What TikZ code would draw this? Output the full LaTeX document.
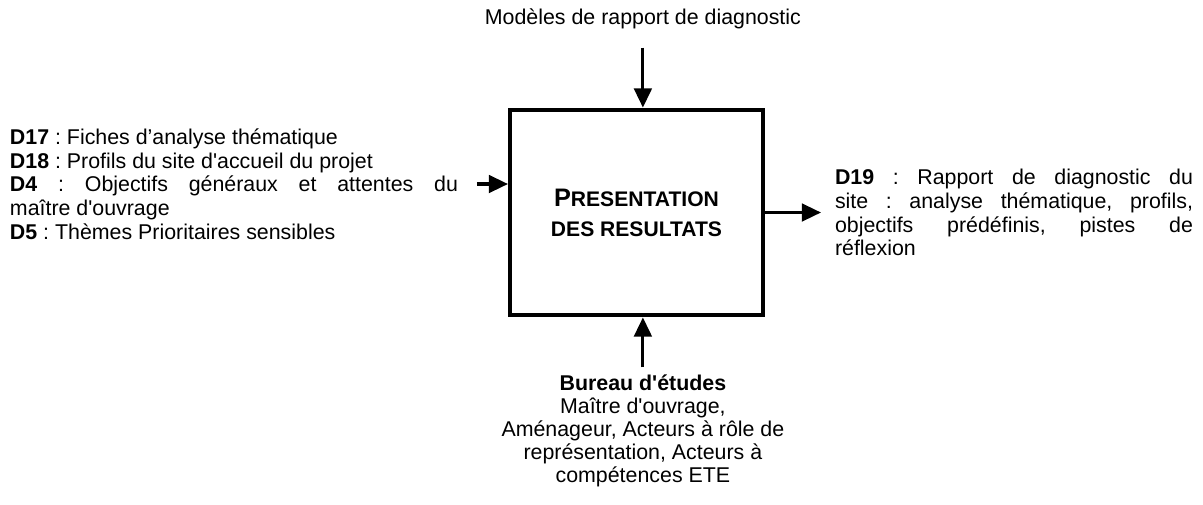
\documentclass[tikz,border=0pt]{standalone}
\usepackage{fontspec}
\setmainfont{Liberation Sans}[Ligatures=TeXOff]
\usetikzlibrary{arrows.meta, positioning}
\setlength{\parindent}{0pt}
\frenchspacing

\begin{document}
\begin{tikzpicture}[
  txt/.style={inner sep=0pt, font=\fontsize{15.2}{16.4}\selectfont},
  activity/.style={rectangle, draw=black, line width=3pt, minimum width=6.32cm,
                   minimum height=5.14cm, align=center,
                   font=\bfseries\fontsize{15}{21.3}\selectfont},
  arrow/.style={-{Triangle[length=0.48cm, width=0.44cm]}, line width=2.2pt},
]
\useasboundingbox (0,0) rectangle (30.075,-12.6);
\node[activity] (proc) at (15.9125,-5.3125) {{\fontsize{18}{21.3}\selectfont P}RESENTATION\\DES RESULTATS};
\node[txt, above=1.5cm of proc, xshift=0.16cm, outer ysep=0.46cm] (ctrl) {Modèles de rapport de diagnostic};
\node[txt, left=0.775cm of proc, yshift=0.7125cm, outer xsep=0.475cm, text width=11.2cm, align=justify,
      font=\fontsize{15.2}{16.8}\selectfont] (din)
  {\textbf{D17} : Fiches d’analyse thématique\\
   \textbf{D18} : Profils du site d'accueil du projet\\
   \textbf{D4} : Objectifs généraux et attentes du\linebreak maître d'ouvrage\\
   \textbf{D5} : Thèmes Prioritaires sensibles};
\node[txt, right=1.4cm of proc, outer xsep=0.35cm, text width=8.95cm, align=justify,
      font=\fontsize{15.2}{17}\selectfont] (dout)
  {\textbf{D19} : Rapport de diagnostic du\linebreak site : analyse thématique, profils,\linebreak
   objectifs prédéfinis, pistes de\linebreak réflexion};
\node[txt, below=1.25cm of proc, xshift=0.16cm, outer ysep=0.175cm, align=center] (mec)
  {\textbf{Bureau d'études}\\Maître d'ouvrage,\\Aménageur, Acteurs à rôle de\\représentation, Acteurs à\\compétences ETE};
\draw[arrow] (ctrl.south) -- (ctrl.south |- proc.north);
\draw[arrow] (din.east) -- (din.east -| proc.west);
\draw[arrow] (proc.east) -- (dout.west);
\draw[arrow] (mec.north) -- (mec.north |- proc.south);
\end{tikzpicture}
\end{document}
